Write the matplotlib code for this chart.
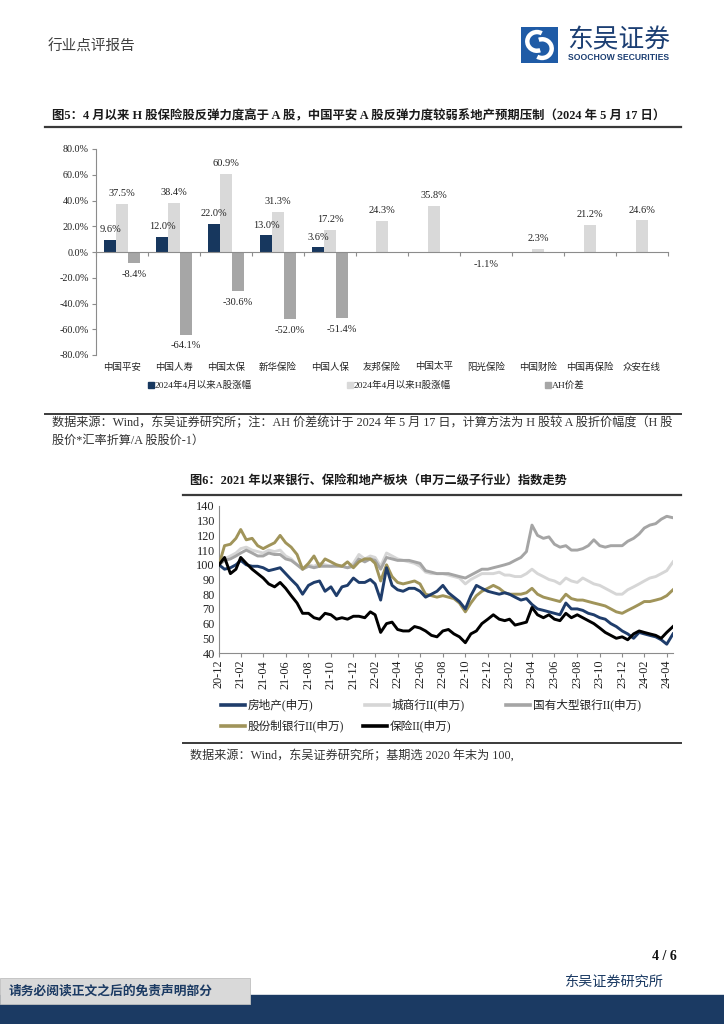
import numpy as np
import pandas as pd
import matplotlib
matplotlib.use('Agg')
import matplotlib.pyplot as plt
import matplotlib.transforms as mtrans
from matplotlib.lines import Line2D
from matplotlib.patches import Rectangle, Arc

W, H = 724, 1024
CJK = ['Noto Sans CJK SC', 'DejaVu Sans']
MIX = ['Liberation Serif', 'Noto Sans CJK SC', 'DejaVu Sans']
plt.rcParams['font.family'] = MIX

'''
Data - Fig 5 (bar chart)
'''
companies = ['中国平安', '中国人寿', '中国太保', '新华保险', '中国人保', '友邦保险',
             '中国太平', '阳光保险', '中国财险', '中国再保险', '众安在线']
a_chg = [9.6, 12.0, 22.0, 13.0, 3.6, None, None, None, None, None, None]
h_chg = [37.5, 38.4, 60.9, 31.3, 17.2, 24.3, 35.8, -1.1, 2.3, 21.2, 24.6]
ah_gap = [-8.4, -64.1, -30.6, -52.0, -51.4, None, None, None, None, None, None]
bar_names = ['2024年4月以来A股涨幅', '2024年4月以来H股涨幅', 'AH价差']
bar_colors = ['#17375E', '#D9D9D9', '#A6A6A6']

'''
Data - Fig 6 (index lines, read twice a month, base end of 2020 = 100)
'''
real_estate = [100, 97, 98, 100, 103, 100, 99, 99, 98, 96,
               97, 98, 94, 90, 86, 80, 86, 88, 89, 82,
               85, 79, 85, 86, 91, 88, 88, 90, 87, 76,
               98, 86, 83, 82, 84, 84, 82, 78, 80, 82,
               86, 81, 78, 75, 70, 79, 86, 84, 82, 81,
               80, 81, 80, 78, 76, 77, 73, 70, 69, 68,
               67, 66, 74, 70, 70, 69, 67, 66, 64, 63,
               60, 58, 55, 53, 50, 54, 53, 52, 51, 49,
               46, 53]
city_bank = [100, 104, 106, 108, 111, 112, 110, 109, 108, 110,
             109, 110, 106, 104, 100, 97, 100, 99, 101, 100,
             99, 100, 99, 98, 101, 107, 104, 106, 105, 99,
             108, 106, 104, 103, 102, 101, 99, 95, 94, 94,
             94, 93, 92, 91, 87, 90, 92, 94, 94, 94,
             95, 93, 93, 92, 92, 94, 97, 94, 92, 90,
             89, 87, 91, 89, 88, 91, 89, 87, 86, 84,
             82, 80, 80, 83, 85, 87, 89, 91, 92, 94,
             96, 102]
state_bank = [100, 103, 104, 106, 108, 110, 108, 106, 106, 108,
              107, 107, 104, 103, 100, 97, 99, 98, 99, 99,
              99, 99, 99, 98, 99, 104, 102, 104, 103, 97,
              105, 104, 103, 103, 103, 102, 101, 96, 95, 94,
              94, 94, 93, 92, 91, 93, 95, 97, 97, 98,
              99, 100, 101, 103, 105, 109, 127, 120, 118, 119,
              114, 112, 113, 110, 110, 111, 113, 117, 113, 112,
              113, 113, 113, 116, 118, 121, 125, 127, 128, 131,
              133, 132]
joint_bank = [100, 113, 114, 118, 124, 117, 118, 113, 111, 113,
              115, 120, 115, 112, 107, 97, 101, 106, 99, 104,
              102, 100, 99, 102, 98, 102, 104, 104, 101, 89,
              100, 92, 88, 87, 88, 89, 87, 80, 79, 78,
              79, 78, 77, 74, 68, 74, 79, 82, 84, 86,
              84, 81, 80, 80, 80, 81, 84, 80, 78, 77,
              76, 75, 80, 77, 76, 76, 75, 74, 73, 72,
              70, 68, 67, 69, 71, 73, 75, 75, 76, 77,
              79, 83]
insurance = [100, 105, 94, 97, 105, 101, 97, 94, 91, 87,
             85, 88, 84, 79, 74, 67, 67, 64, 63, 67,
             66, 63, 64, 63, 65, 65, 64, 68, 66, 54,
             60, 61, 56, 55, 55, 58, 57, 55, 52, 51,
             55, 56, 53, 51, 47, 53, 55, 60, 63, 66,
             63, 62, 63, 59, 60, 61, 71, 66, 64, 66,
             63, 62, 67, 64, 66, 64, 62, 60, 57, 54,
             52, 50, 51, 49, 53, 55, 54, 53, 52, 50,
             54, 58]
line_names = ['房地产(申万)', '城商行II(申万)', '国有大型银行II(申万)', '股份制银行II(申万)', '保险II(申万)']
line_colors = ['#1F3D6B', '#D6D6D6', '#A5A5A5', '#A0945A', '#000000']

base = pd.Timestamp('2020-12-31')
dates = [base]
for i in range(1, 41):
    me = base + pd.offsets.MonthEnd(i)
    dates += [me.replace(day=15), me]
dates.append(pd.Timestamp('2024-05-17'))
tick_dates = [base + pd.offsets.MonthEnd(2 * i) for i in range(21)]

'''
Page helpers (pixel coords, origin top-left)
'''
fig = plt.figure(figsize=(W / 100, H / 100), dpi=100)


def box(x0, y0, x1, y1):
    return [x0 / W, 1 - y1 / H, (x1 - x0) / W, (y1 - y0) / H]


def put(x, y, s, **kw):
    kw.setdefault('va', 'center')
    return fig.text(x / W, 1 - y / H, s, **kw)


def hline(x0, x1, y, lw=1.3, color='#3A3A3A'):
    fig.add_artist(Line2D([x0 / W, x1 / W], [1 - y / H] * 2, transform=fig.transFigure, lw=lw, color=color))


def rect(x0, y0, x1, y1, **kw):
    fig.add_artist(Rectangle((x0 / W, 1 - y1 / H), (x1 - x0) / W, (y1 - y0) / H, transform=fig.transFigure, **kw))


# Header
put(48, 47, '行业点评报告', fontsize=10.5, color='#404040', family=CJK)
logo = fig.add_axes(box(521, 27, 558, 63))
logo.set_facecolor('#1F5BA6')
logo.set_xlim(0, 1)
logo.set_ylim(0, 1)
logo.set_xticks([])
logo.set_yticks([])
for s in logo.spines.values():
    s.set_visible(False)
logo.add_patch(Arc((0.43, 0.6), 0.52, 0.52, theta1=60, theta2=290, color='white', lw=3.2))
logo.add_patch(Arc((0.57, 0.4), 0.52, 0.52, theta1=240, theta2=110, color='white', lw=3.2))
put(567, 40, '东吴证券', fontsize=18.5, color='#1C3F73', family=CJK)
put(568, 58, 'SOOCHOW SECURITIES', fontsize=6.2, color='#1C3F73', weight='bold', family=['Liberation Sans'])

'''
Fig 5
'''
put(52, 116, '图5：4 月以来 H 股保险股反弹力度高于 A 股，中国平安 A 股反弹力度较弱系地产预期压制（2024 年 5 月 17 日）',
    fontsize=8.9, weight='bold', color='#1A1A1A')
hline(45, 681, 127, lw=1.6)

ax = fig.add_axes(box(96, 149, 668, 355))
x = np.arange(len(companies))
bw = 0.23
for k, (vals, color) in enumerate(zip([a_chg, h_chg, ah_gap], bar_colors)):
    v = np.array([np.nan if e is None else e for e in vals], dtype=float)
    ok = ~np.isnan(v)
    xs = x[ok] + (k - 1) * bw
    ax.bar(xs, v[ok], bw, color=color, zorder=2)
    for xi, vi in zip(xs, v[ok]):
        ax.annotate(f'{vi:.1f}%', (xi, vi), xytext=(0, 4 if vi >= 0 else -5), textcoords='offset points',
                    ha='center', va='bottom' if vi >= 0 else 'top', fontsize=7.5, color='#222222')
ax.set_xlim(-0.5, len(companies) - 0.5)
ax.set_ylim(-80, 80)
ax.set_yticks(np.arange(-80, 81, 20))
ax.set_yticklabels([f'{t:.1f}%' for t in np.arange(-80, 81, 20)], fontsize=7.3, color='#222222')
ax.set_xticks(np.arange(-0.5, len(companies), 1))
ax.set_xticklabels([])
ax.spines['bottom'].set_position(('data', 0))
for s in ['top', 'right']:
    ax.spines[s].set_visible(False)
for s in ['left', 'bottom']:
    ax.spines[s].set_color('#8C8C8C')
ax.tick_params(axis='both', direction='out', length=3, color='#8C8C8C', width=0.8)
ax.tick_params(axis='y', pad=2)
ax.set_facecolor('none')
tr = mtrans.blended_transform_factory(ax.transData, fig.transFigure)
for xi, c in zip(x, companies):
    ax.text(xi, 1 - 367 / H, c, transform=tr, ha='center', va='center', fontsize=6.8, family=CJK, color='#222222')

for lx, name, color in zip([148, 347, 545], bar_names, bar_colors):
    rect(lx, 382, lx + 6, 388, color=color)
    put(lx + 7, 385, name, fontsize=6.8, color='#222222')

hline(45, 681, 414, lw=1.4)
put(52, 423, '数据来源：Wind，东吴证券研究所；注：AH 价差统计于 2024 年 5 月 17 日，计算方法为 H 股较 A 股折价幅度（H 股',
    fontsize=8.75, color='#333333')
put(52, 441, '股价*汇率折算/A 股股价-1）', fontsize=8.75, color='#333333')

'''
Fig 6
'''
put(190, 482, '图6：2021 年以来银行、保险和地产板块（申万二级子行业）指数走势', fontsize=8.85, weight='bold', color='#1A1A1A')
hline(183, 681, 495, lw=1.6)

ax2 = fig.add_axes(box(219, 506, 673, 653))
series = [real_estate, city_bank, state_bank, joint_bank, insurance]
draw_order = [1, 2, 3, 0, 4]
for i in draw_order:
    ax2.plot(dates, series[i], color=line_colors[i], lw=2.1, solid_joinstyle='round', zorder=2 + draw_order.index(i))
ax2.set_xlim(dates[0], dates[-1])
ax2.set_ylim(40, 140)
ax2.set_yticks(np.arange(40, 141, 10))
ax2.set_yticklabels([str(t) for t in range(40, 141, 10)], fontsize=8.8, color='#222222')
ax2.set_xticks(tick_dates)
ax2.set_xticklabels([d.strftime('%y-%m') for d in tick_dates], rotation=90, fontsize=8.8, color='#222222')
for s in ['top', 'right']:
    ax2.spines[s].set_visible(False)
for s in ['left', 'bottom']:
    ax2.spines[s].set_color('#8C8C8C')
ax2.tick_params(axis='x', direction='out', length=3, color='#8C8C8C', pad=2)
ax2.tick_params(axis='y', direction='out', length=0, pad=3)

legend_pos = [(221, 705), (365, 705), (506, 705), (221, 726), (363, 726)]
for (lx, ly), name, color in zip(legend_pos, line_names, line_colors):
    fig.add_artist(Line2D([lx / W, (lx + 24) / W], [1 - ly / H] * 2, transform=fig.transFigure, lw=2.6, color=color))
    put(lx + 27, ly, name, fontsize=8.4, color='#222222')

hline(183, 681, 743, lw=1.4)
put(190, 755, '数据来源：Wind，东吴证券研究所；基期选 2020 年末为 100,', fontsize=8.7, color='#333333')

'''
Footer
'''
put(677, 957, '4 / 6', fontsize=10, weight='bold', ha='right', color='#111111')
put(565, 983, '东吴证券研究所', fontsize=10.2, color='#1B3A63', family=CJK)
rect(0, 995, W, H, color='#1B3A63')
rect(0, 978, 250, 1004, facecolor='#D9D9D9', edgecolor='#BFBFBF', lw=0.6)
put(9, 991, '请务必阅读正文之后的免责声明部分', fontsize=9.2, weight='bold', color='#1B3A63', family=CJK)

fig.savefig('out.png', dpi=100)
